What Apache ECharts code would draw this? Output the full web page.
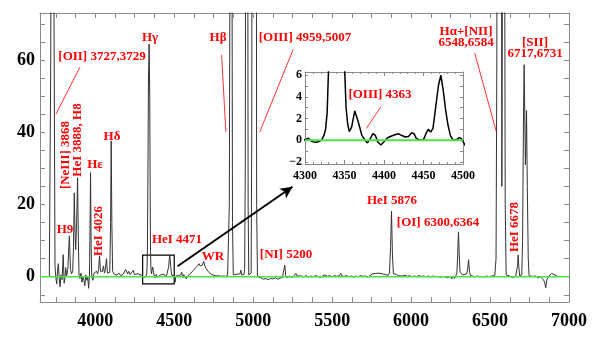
<!DOCTYPE html>
<html><head><meta charset="utf-8">
<script src="https://cdn.jsdelivr.net/npm/echarts@6/dist/echarts.min.js"></script>
<style>html,body{margin:0;padding:0;background:#fff}#c{width:610px;height:349px}</style>
</head><body><div id="c"></div>
<script>
const wavelength = [3709,3718,3724,3730,3738,3745,3751,3756,3761,3766,3771,3777,3783,3790,3797,3803,3808,3813,3819,3826,3830,3836,3843,3850,3857,3862,3867,3872,3876,3882,3888,3893,3897,3903,3910,3916,3922,3928,3934,3940,3946,3952,3958,3963,3966,3970,3974,3978,3985,3992,4000,4008,4015,4021,4027,4033,4040,4046,4052,4058,4064,4071,4077,4084,4092,4097,4101,4105,4110,4118,4127,4138,4150,4162,4175,4186,4193,4199,4205,4212,4220,4230,4241,4248,4258,4270,4282,4292,
4300,4304,4308,4313,4317,4321,4324,4326,4328,4330,4333,4337,4341,4345,4348,4350,4352,4354,4356,4359,4363,4367,4372,4376,4379,4382,4386,4389,4392,4396,4400,4405,4412,4418,4422,4427,4431,4435,4438,4441,4446,4450,4454,4456,4459,4462,4465,4469,4472,4475,4478,4481,4484,4487,4492,4495,4498,4500,
4503,4506,4510,4518,4526,4534,4541,4547,4553,4560,4568,4576,4585,4595,4605,4618,4630,4642,4650,4657,4664,4670,4678,4687,4694,4702,4712,4725,4738,4750,4765,4780,4795,4810,4825,4838,4845,4849,4853,4861,4866,4869,4874,4885,4898,4910,4917,4922,4927,4935,4942,4946,4950,4954,4959,4964,4968,4972,4980,4987,4991,4996,5007,5018,5022,5027,
5035,5050,5065,5080,5095,5110,5125,5140,5155,5170,5185,5194,5200,5206,5215,5230,5245,5260,5270,5278,5290,5305,5320,5335,5350,5365,5380,5395,5410,5425,5440,5455,5470,5485,5500,5515,5530,5545,5555,5562,5575,5590,5605,5620,5635,5650,5665,5680,5695,5710,5725,5740,5755,5765,5775,5785,5795,5805,5815,5825,5835,5845,5855,5863,5870,5876,5882,5888,5895,5905,5918,5930,5945,5960,5975,5990,6005,6020,6035,6050,6065,6080,6095,6110,6125,6140,6155,6170,6185,6200,6215,6228,6240,6250,6258,6266,6275,6283,6290,6295,6300,6305,6310,6318,6328,6340,6352,6358,6364,6370,6378,6390,6405,6420,6435,6450,6465,6478,6487,6495,6510,6522,6530,6538,6543,6548,6553,6557,6563,6570,6575,6579,6584,6590,6596,6602,6612,6625,6640,6652,6662,6669,6674,6678,6682,6687,6695,6701,6706,6712,6716,6720,6724,6728,6731,6736,6742,6747,6755,6765,6775,6790,6805,6818,6828,6838,6845,6853,6858,6864,6872,6880,6890,6898,6905,6912,6920,6928];
const flux = [0,60,200,200,80,2.9,-0.5,-2.0,1.5,3.6,0,-2.8,0.5,-0.8,6.1,-1.8,-0.5,2.5,0.3,2.0,1.5,11.3,2.0,0.8,1.5,8,23.2,12,7.5,15,27.4,10,0.5,-0.5,1.0,-1.5,0,-1.0,-2.5,0.5,-1.0,0,-3.2,0,10,28.8,8,0,-1.0,1.0,0.5,1.5,0.8,2,5.8,1.5,2.0,1.5,3.0,1.0,2.0,5.0,1.0,0.8,1.2,15,37.6,15,1.5,0.8,1.0,0.4,1.0,0.3,0.6,1.0,2.0,2.4,0.8,1.5,0.6,1.0,1.8,0.6,0.3,0.8,0.3,0.4,
0,0.2,-0.1,-0.2,-0.15,0,0.45,1.0,2.5,7,25,55,64.4,50,20,7,3,1.5,0.8,1.2,2.7,1.8,0.45,0,-0.25,0.05,0.6,0.45,-0.15,-0.45,-0.15,0.25,0.45,0.6,0.45,0.3,0.35,0.7,0.6,0.15,0,0.05,0.75,1.0,0.75,1.1,2.8,5.1,6.0,4.6,2.8,1.4,0.45,0.05,0.05,0.25,0.15,0.2,
-0.5,-1.5,0.2,-0.3,0.3,-0.2,0.5,1.3,-0.3,0.6,0,-0.6,0.2,0.6,1.0,1.6,2.2,2.8,3.2,3.6,3.0,2.6,3.2,4.2,3.0,2.3,1.6,1.0,0.6,0.4,0.2,0.3,0.1,0.2,0.1,0.4,0.5,20,90,200,90,15,0.5,0.4,0.7,0.4,0.8,1.8,0.5,0.4,0.6,2,30,150,300,150,20,0.5,0.3,1,40,250,800,200,20,0,
-0.4,-0.3,-0.7,-0.5,-0.8,-0.5,-0.6,-0.3,-0.7,-0.4,-0.2,0.3,3.2,0.3,-0.3,0.2,-0.2,0.3,0.9,0.2,-0.2,0.2,0,0.3,-0.1,0.2,0,0.3,0.1,-0.2,0.2,0.5,0.1,0.3,0,0.3,0.1,0.3,0.9,0.2,0.1,0.3,0,0.2,-0.1,0.2,0,0.3,0.1,0.2,-0.1,0.3,0.8,0.5,0.9,0.6,1.0,0.5,0.8,0.4,0.6,0.3,0.4,1,8,18.1,6,0.8,0.5,0.7,0.3,0.5,0.2,0.4,0.1,0.3,0,0.2,0,0.3,0.1,0.2,0,0.2,-0.1,0.2,0,0.1,-0.2,0.1,0,-0.3,-0.4,0.1,-0.6,0.2,-0.5,0.2,1.0,6,12.4,6,1.2,0.8,0.5,0.4,0.8,2,4.7,1.2,0.3,0.2,0,0.2,0,0.1,-0.1,0.2,0.3,0,0.2,0.1,0.3,5,60,250,90,120,900,150,25,100,500,150,20,0.5,0,0.2,-0.2,0.2,0.1,0.5,3,6.0,3,0.3,0.1,0.5,10,45,58.7,45,31,38,46,25,5,0.3,-0.2,0.1,-0.3,0.2,-0.3,0,-0.5,-0.8,-1.5,-3.1,-1.2,-0.4,0.2,0.5,0.9,1.0,0.6,0.2,0.3,0];

const mainXLabels = [4000, 4500, 5000, 5500, 6000, 6500, 7000];
const mainYLabels = [0, 20, 40, 60];
const insetXLabels = [4300, 4350, 4400, 4450, 4500];
const insetYLabels = [-2, 0, 2, 4, 6];

const mainXTicks = []; for (let v = 3750; v <= 7000; v += 125) mainXTicks.push(v);
const mainYTicks = []; for (let v = -5; v <= 70; v += 5) mainYTicks.push(v);
const insetYTicks = []; for (let v = -2; v <= 6; v += 1) insetYTicks.push(v);

const RED = '#ff0000';
const AX = '#8a8a8a';
const GREEN = '#4ce04c';
const SERIF = '"Liberation Serif", "DejaVu Serif", serif';
const spectrum = wavelength.map((w, i) => [w, flux[i]]);

function ax(grid, min, max, pos, labels, ticks) {
  return {
    gridIndex: grid, type: 'value', min: min, max: max, position: pos,
    axisLine: { show: true, onZero: false, lineStyle: { color: AX, width: 1 } },
    axisTick: { show: true, inside: true, length: 5, customValues: ticks, lineStyle: { color: AX } },
    axisLabel: labels ? { show: true, customValues: labels, formatter: v => String(v) } : { show: false },
    splitLine: { show: false }
  };
}
const mainLabelStyle = { color: '#000', fontFamily: SERIF, fontWeight: 'bold', fontSize: 18 };
const insetLabelStyle = { color: '#000', fontFamily: SERIF, fontWeight: 'bold', fontSize: 12 };
const minus = v => (v < 0 ? '\u2212' + Math.abs(v) : String(v));

const xMainB = ax(0, 3650, 7000, 'bottom', mainXLabels, mainXTicks);
Object.assign(xMainB.axisLabel, mainLabelStyle, { margin: 10 });
const xMainT = ax(0, 3650, 7000, 'top', null, mainXTicks);
const yMainL = ax(0, -7, 73, 'left', mainYLabels, mainYTicks);
Object.assign(yMainL.axisLabel, mainLabelStyle, { margin: 5 });
const yMainR = ax(0, -7, 73, 'right', null, mainYTicks);

const xInB = {
  gridIndex: 1, type: 'value', min: 4300, max: 4500, interval: 50, position: 'bottom',
  axisLine: { show: true, onZero: false, lineStyle: { color: AX } },
  axisTick: { show: true, inside: true, length: 4, lineStyle: { color: AX } },
  minorTick: { show: true, splitNumber: 5, length: 2, lineStyle: { color: AX } },
  axisLabel: Object.assign({ show: true, margin: 6, formatter: v => String(v) }, insetLabelStyle),
  splitLine: { show: false }, minorSplitLine: { show: false }
};
const xInT = {
  gridIndex: 1, type: 'value', min: 4300, max: 4500, interval: 50, position: 'top',
  axisLine: { show: true, onZero: false, lineStyle: { color: AX } },
  axisTick: { show: true, inside: true, length: 4, lineStyle: { color: AX } },
  minorTick: { show: true, splitNumber: 5, length: 2, lineStyle: { color: AX } },
  axisLabel: { show: false },
  splitLine: { show: false }, minorSplitLine: { show: false }
};
const yInL = ax(1, -2.2, 6.3, 'left', insetYLabels, insetYTicks);
yInL.axisTick.length = 3;
Object.assign(yInL.axisLabel, insetLabelStyle, { margin: 3, formatter: minus });
const yInR = ax(1, -2.2, 6.3, 'right', null, insetYTicks);
yInR.axisTick.length = 3;

function txt(text, x, y, rot) {
  return {
    type: 'text', x: x, y: y, rotation: rot ? Math.PI / 2 : 0, z: 100, silent: true,
    style: { text: text, fill: RED, font: 'bold 13px ' + SERIF, textAlign: 'center', textVerticalAlign: 'middle' }
  };
}

const labelGraphics = [
  txt('[OII] 3727,3729', 102, 57),
  txt('H\u03b3', 150, 38),
  txt('H\u03b2', 218, 38),
  txt('[OIII] 4959,5007', 305, 38),
  txt('H\u03b1+[NII]', 466, 32),
  txt('6548,6584', 466, 43),
  txt('[SII]', 535, 43),
  txt('6717,6731', 535, 54),
  txt('[NeIII] 3868', 66, 155, true),
  txt('HeI 3888, H8', 78, 140, true),
  txt('H\u03b5', 95, 165),
  txt('H\u03b4', 112, 137),
  txt('H9', 65, 230),
  txt('HeI 4026', 99, 231, true),
  txt('HeI 4471', 177, 240),
  txt('WR', 213, 257),
  txt('[NI] 5200', 286, 255),
  txt('HeI 5876', 392, 201),
  txt('[OI] 6300,6364', 438, 223),
  txt('HeI 6678', 515, 227, true),
  txt('[OIII] 4363', 380, 95)
];

const chart = echarts.init(document.getElementById('c'), null, { renderer: 'canvas' });
chart.setOption({
  animation: false,
  backgroundColor: '#fff',
  grid: [
    { left: 40, right: 41, top: 13, bottom: 47 },
    { left: 305, top: 72, width: 158, height: 92 }
  ],
  xAxis: [xMainB, xMainT, xInB, xInT],
  yAxis: [yMainL, yMainR, yInL, yInR],
  series: [
    {
      type: 'line', xAxisIndex: 0, yAxisIndex: 0, data: spectrum, symbol: 'none', clip: true, silent: true,
      lineStyle: { color: '#333', width: 1 }, z: 2,
      markArea: {
        silent: true, itemStyle: { color: 'rgba(0,0,0,0)', borderColor: '#000', borderWidth: 1.2 },
        data: [[{ coord: [4300, -2] }, { coord: [4500, 6] }]]
      }
    },
    {
      type: 'line', xAxisIndex: 0, yAxisIndex: 0, data: [[3650, 0], [7000, 0]], symbol: 'none', silent: true,
      lineStyle: { color: GREEN, width: 1.5 }, z: 3,
      markLine: {
        silent: true, symbol: ['none', 'none'], label: { show: false },
        lineStyle: { color: RED, width: 0.8, type: 'solid' },
        data: [
          [{ coord: [3903, 58] }, { coord: [3751, 45] }],
          [{ coord: [4800, 61.4] }, { coord: [4827, 40.1] }],
          [{ coord: [5253, 62.9] }, { coord: [5042, 40.1] }],
          [{ coord: [6403, 61.9] }, { coord: [6540, 40.1] }]
        ]
      }
    },
    {
      type: 'line', xAxisIndex: 0, yAxisIndex: 0, data: [], symbol: 'none', silent: true, z: 4,
      markLine: {
        silent: true, symbol: ['none', 'arrow'], symbolSize: [9, 12], label: { show: false },
        lineStyle: { color: '#000', width: 2, type: 'solid' },
        data: [[{ coord: [4521, 2.9] }, { coord: [5249, 24.9] }]]
      }
    },
    {
      type: 'line', xAxisIndex: 2, yAxisIndex: 2, data: spectrum, symbol: 'none', clip: true, silent: true,
      lineStyle: { color: '#000', width: 1.5 }, z: 5
    },
    {
      type: 'line', xAxisIndex: 2, yAxisIndex: 2, data: [[4300, 0], [4500, 0]], symbol: 'none', silent: true,
      lineStyle: { color: GREEN, width: 2 }, z: 6,
      markLine: {
        silent: true, symbol: ['none', 'none'], label: { show: false },
        lineStyle: { color: RED, width: 0.8, type: 'solid' },
        data: [[{ coord: [4396, 3.07] }, { coord: [4377.5, 1.08] }]]
      }
    }
  ],
  graphic: labelGraphics
});

// ECharts 6 hides the inset's lowest y label where it meets the x labels; restore it if it was hidden.
(function () {
  const want = minus(insetYLabels[0]);
  let visible = false;
  chart.getZr().storage.traverse(el => {
    if (el.style && el.style.text === want && !el.ignore && !el.invisible && el.style.opacity !== 0) visible = true;
  });
  if (!visible) {
    const p = chart.convertToPixel({ xAxisIndex: 2, yAxisIndex: 2 }, [4300, insetYLabels[0]]);
    labelGraphics.push({
      type: 'text', x: p[0] - 3, y: p[1], z: 100, silent: true,
      style: { text: want, fill: '#000', font: 'bold 12px ' + SERIF, textAlign: 'right', textVerticalAlign: 'middle' }
    });
    chart.setOption({ graphic: labelGraphics });
  }
})();
</script></body></html>
